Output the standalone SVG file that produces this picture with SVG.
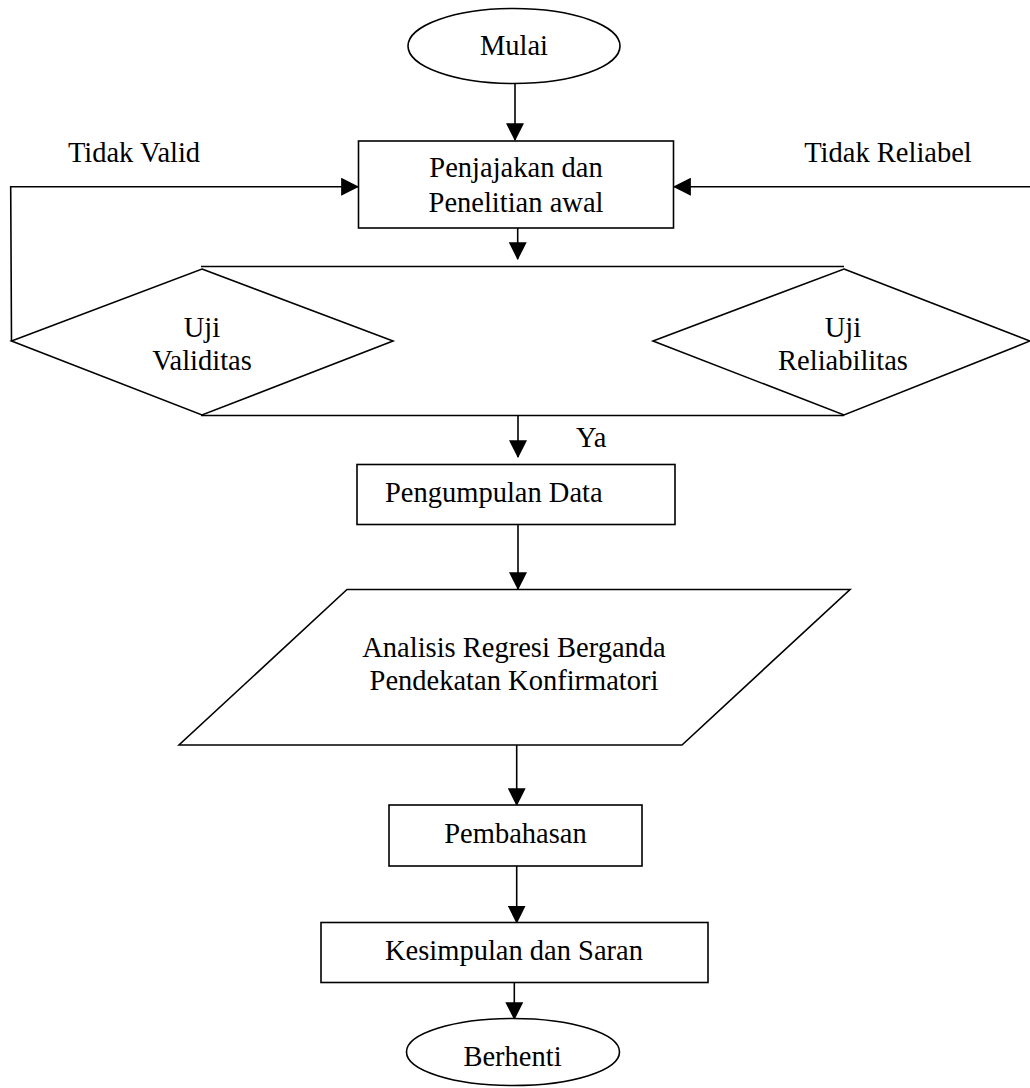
<svg xmlns="http://www.w3.org/2000/svg" width="1030" height="1088" viewBox="0 0 1030 1088">
<style>
.shape{fill:#fff;stroke:#000;stroke-width:1.6}
.line{fill:none;stroke:#000;stroke-width:1.6}
text{font-family:"Liberation Serif","Times New Roman",serif;font-size:28.5px;fill:#000}
.c{text-anchor:middle}
</style>
<defs>
<marker id="ah" markerUnits="userSpaceOnUse" markerWidth="18" markerHeight="18" viewBox="0 0 16 16" refX="15" refY="8" orient="auto">
<path d="M0,0 L16,8 L0,16 Z" fill="#000"/>
</marker>
</defs>
<rect width="1030" height="1088" fill="#fff"/>
<g id="connectors">
<line class="line" x1="515" y1="83" x2="515" y2="140" marker-end="url(#ah)"/>
<polyline class="line" points="11.5,341 10.7,186.7 358,186.7" marker-end="url(#ah)"/>
<polyline class="line" points="1031,341 1031,186.7 674,186.7" marker-end="url(#ah)"/>
<line class="line" x1="517.7" y1="228" x2="517.7" y2="259" marker-end="url(#ah)"/>
<line class="line" x1="201" y1="266.5" x2="844" y2="266.5"/>
<line class="line" x1="201" y1="415.5" x2="844" y2="415.5"/>
<line class="line" x1="518" y1="416" x2="518" y2="457" marker-end="url(#ah)"/>
<line class="line" x1="518" y1="524" x2="518" y2="589" marker-end="url(#ah)"/>
<line class="line" x1="516.7" y1="745" x2="516.7" y2="805" marker-end="url(#ah)"/>
<line class="line" x1="516.7" y1="866" x2="516.7" y2="922.5" marker-end="url(#ah)"/>
<line class="line" x1="514.3" y1="982" x2="514.3" y2="1019" marker-end="url(#ah)"/>
</g>
<g id="labels">
<text x="134" y="162" class="c">Tidak Valid</text>
<text x="888" y="162" class="c">Tidak Reliabel</text>
<text x="576" y="447">Ya</text>
</g>
<g id="mulai">
<ellipse class="shape" cx="514" cy="46" rx="106" ry="37.5"/>
<text x="514" y="55" class="c">Mulai</text>
</g>
<g id="penjajakan">
<rect class="shape" x="358.5" y="141" width="315" height="87"/>
<text x="516" y="177" class="c">Penjajakan dan</text>
<text x="516" y="212" class="c">Penelitian awal</text>
</g>
<g id="uji-validitas">
<polygon class="shape" points="202,269 393,341 202,415 11.5,341"/>
<text x="202" y="337" class="c">Uji</text>
<text x="202" y="370" class="c">Validitas</text>
</g>
<g id="uji-reliabilitas">
<polygon class="shape" points="844,269 1030,341 844,415 653,341"/>
<text x="843" y="337" class="c">Uji</text>
<text x="843" y="370" class="c">Reliabilitas</text>
</g>
<g id="pengumpulan">
<rect class="shape" x="357" y="464.5" width="318" height="60"/>
<text x="385" y="502">Pengumpulan Data</text>
</g>
<g id="analisis">
<polygon class="shape" points="347,589.5 850,589.5 682,745 179,745"/>
<text x="514" y="657" class="c">Analisis Regresi Berganda</text>
<text x="514" y="690" class="c">Pendekatan Konfirmatori</text>
</g>
<g id="pembahasan">
<rect class="shape" x="389" y="805" width="253" height="61"/>
<text x="515.5" y="843" class="c">Pembahasan</text>
</g>
<g id="kesimpulan">
<rect class="shape" x="321" y="922.5" width="387" height="60"/>
<text x="514" y="960" class="c">Kesimpulan dan Saran</text>
</g>
<g id="berhenti">
<ellipse class="shape" cx="513" cy="1052" rx="106.5" ry="33.5"/>
<text x="512.5" y="1066" class="c">Berhenti</text>
</g>
</svg>
